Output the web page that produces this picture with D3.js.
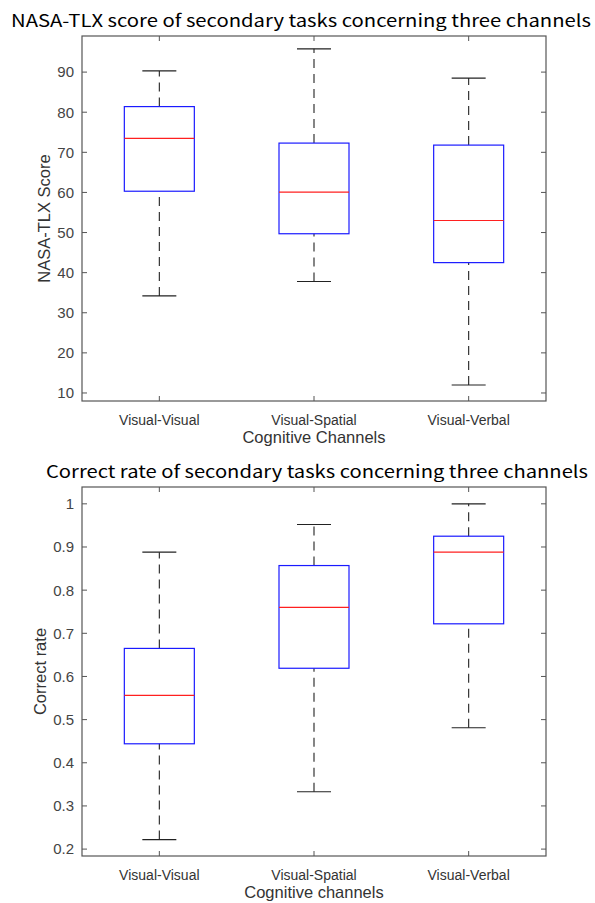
<!DOCTYPE html>
<html>
<head>
<meta charset="utf-8">
<script src="https://cdn.jsdelivr.net/npm/d3@7"></script>
<style>
  body { margin: 0; background: #fff; }
  svg { display: block; }
</style>
</head>
<body>
<div id="chart"></div>
<script>
// categories
const channels = ["Visual-Visual", "Visual-Spatial", "Visual-Verbal"];

// NASA-TLX score boxes (whisker low, Q1, median, Q3, whisker high)
const tlxLow = [34.2, 37.8, 12.0];
const tlxQ1 = [60.3, 49.7, 42.5];
const tlxMed = [73.5, 60.1, 53.0];
const tlxQ3 = [81.4, 72.3, 71.8];
const tlxHigh = [90.3, 95.8, 88.5];
const tlxTicks = [10, 20, 30, 40, 50, 60, 70, 80, 90];

// correct rate boxes
const rateLow = [0.222, 0.333, 0.481];
const rateQ1 = [0.444, 0.619, 0.722];
const rateMed = [0.556, 0.760, 0.888];
const rateQ3 = [0.665, 0.857, 0.925];
const rateHigh = [0.888, 0.952, 1.0];
const rateTicks = [0.2, 0.3, 0.4, 0.5, 0.6, 0.7, 0.8, 0.9, 1];

const W = 595, H = 903;
const svg = d3.select("#chart").append("svg")
    .attr("width", W).attr("height", H);
svg.append("rect").attr("width", W).attr("height", H).attr("fill", "#fff");

const titleFont = "'Noto Sans CJK JP', 'DejaVu Sans', sans-serif";
const labelFont = "'Liberation Sans', Arial, sans-serif";

function panel(opts) {
    const left = 82, right = 546;
    const x = d3.scaleLinear().domain([0.5, 3.5]).range([left, right]);
    const y = d3.scaleLinear().domain(opts.domain).range([opts.bottom, opts.top]);
    const g = svg.append("g");

    const rows = channels.map((c, i) => ({
        name: c, pos: i + 1,
        low: opts.low[i], q1: opts.q1[i], med: opts.med[i], q3: opts.q3[i], high: opts.high[i]
    }));

    // axes box
    g.append("rect")
        .attr("x", left).attr("y", opts.top)
        .attr("width", right - left).attr("height", opts.bottom - opts.top)
        .attr("fill", "none").attr("stroke", "#555").attr("stroke-width", 1.2);

    // y ticks (inside, both sides)
    const yt = g.append("g").attr("font-family", labelFont).attr("font-size", 15).attr("fill", "#444");
    opts.ticks.forEach(t => {
        const yy = y(t);
        yt.append("line").attr("x1", left).attr("x2", left + 5).attr("y1", yy).attr("y2", yy)
            .attr("stroke", "#555");
        yt.append("line").attr("x1", right - 5).attr("x2", right).attr("y1", yy).attr("y2", yy)
            .attr("stroke", "#555");
        yt.append("text").attr("x", left - 8).attr("y", yy).attr("dy", "0.36em")
            .attr("text-anchor", "end").text(opts.fmt(t));
    });

    // x ticks (inside, top and bottom)
    const xt = g.append("g").attr("font-family", labelFont).attr("font-size", 14).attr("fill", "#333");
    rows.forEach(d => {
        const xx = x(d.pos);
        xt.append("line").attr("x1", xx).attr("x2", xx).attr("y1", opts.bottom).attr("y2", opts.bottom - 5)
            .attr("stroke", "#555");
        xt.append("line").attr("x1", xx).attr("x2", xx).attr("y1", opts.top).attr("y2", opts.top + 5)
            .attr("stroke", "#555");
        xt.append("text").attr("x", xx).attr("y", opts.bottom + 24)
            .attr("text-anchor", "middle").text(d.name);
    });

    const capHalf = 17, boxHalf = 35;

    // whiskers
    const wg = g.append("g");
    rows.forEach(d => {
        const xx = x(d.pos);
        [[d.q3, d.high], [d.low, d.q1]].forEach(([a, b]) => {
            wg.append("line").attr("x1", xx).attr("x2", xx)
                .attr("y1", y(a)).attr("y2", y(b))
                .attr("stroke", "#222").attr("stroke-width", 1.1)
                .attr("stroke-dasharray", "9,6");
        });
        [d.high, d.low].forEach(v => {
            wg.append("line").attr("x1", xx - capHalf).attr("x2", xx + capHalf)
                .attr("y1", y(v)).attr("y2", y(v))
                .attr("stroke", "#222").attr("stroke-width", 1.1);
        });
    });

    // boxes
    g.append("g").selectAll("rect").data(rows).join("rect")
        .attr("x", d => x(d.pos) - boxHalf)
        .attr("y", d => y(d.q3))
        .attr("width", boxHalf * 2)
        .attr("height", d => y(d.q1) - y(d.q3))
        .attr("fill", "none").attr("stroke", "#1a1aff").attr("stroke-width", 1.2);

    // medians
    g.append("g").selectAll("line").data(rows).join("line")
        .attr("x1", d => x(d.pos) - boxHalf).attr("x2", d => x(d.pos) + boxHalf)
        .attr("y1", d => y(d.med)).attr("y2", d => y(d.med))
        .attr("stroke", "#ff2020").attr("stroke-width", 1.2);

    // title
    g.append("text").attr("x", opts.titleX).attr("y", opts.top - 9)
        .attr("font-family", titleFont).attr("font-size", 17).attr("fill", "#000")
        .attr("text-anchor", "middle")
        .attr("textLength", opts.titleLen).attr("lengthAdjust", "spacingAndGlyphs")
        .text(opts.title);

    // axis labels
    g.append("text").attr("x", (left + right) / 2).attr("y", opts.bottom + 42)
        .attr("font-family", labelFont).attr("font-size", 16.5).attr("fill", "#333")
        .attr("text-anchor", "middle").text(opts.xLabel);
    g.append("text")
        .attr("transform", `translate(${opts.yLabelX},${(opts.top + opts.bottom) / 2}) rotate(-90)`)
        .attr("font-family", labelFont).attr("font-size", 16.5).attr("fill", "#333")
        .attr("text-anchor", "middle").text(opts.yLabel);
}

panel({
    top: 36, bottom: 401, domain: [8, 99],
    low: tlxLow, q1: tlxQ1, med: tlxMed, q3: tlxQ3, high: tlxHigh,
    ticks: tlxTicks, fmt: d3.format("d"),
    title: "NASA-TLX score of secondary tasks concerning three channels",
    titleX: 301, titleLen: 580,
    xLabel: "Cognitive Channels", yLabel: "NASA-TLX Score", yLabelX: 50
});

panel({
    top: 487, bottom: 856, domain: [0.184, 1.039],
    low: rateLow, q1: rateQ1, med: rateMed, q3: rateQ3, high: rateHigh,
    ticks: rateTicks, fmt: d => d === 1 ? "1" : d3.format(".1f")(d),
    title: "Correct rate of secondary tasks concerning three channels",
    titleX: 317, titleLen: 542,
    xLabel: "Cognitive channels", yLabel: "Correct rate", yLabelX: 46
});
</script>
</body>
</html>
